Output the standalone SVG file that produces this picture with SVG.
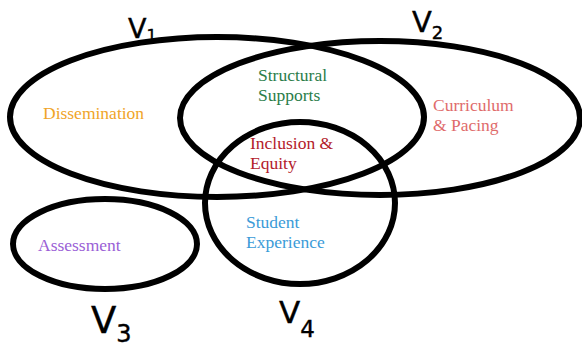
<svg xmlns="http://www.w3.org/2000/svg" width="582" height="347" viewBox="0 0 582 347">
<style>
.set{fill:none;stroke:#000;stroke-width:6}
.lbl{font-family:'Liberation Serif','DejaVu Serif',serif;font-size:17.5px}
.v{font-family:'DejaVu Sans','Noto Sans',sans-serif;fill:#000;stroke:#000;stroke-width:0.4}
</style>
<rect width="582" height="347" fill="#fff"/>
<g id="v1">
<ellipse class="set" cx="217" cy="117" rx="207" ry="80"/>
<text class="v" x="128" y="38" font-size="27">V<tspan font-size="16" dy="3">1</tspan></text>
</g>
<g id="v2">
<ellipse class="set" cx="380" cy="118" rx="200" ry="77"/>
<text class="v" x="412" y="32" font-size="29">V<tspan font-size="18" dy="7">2</tspan></text>
</g>
<g id="v3">
<ellipse class="set" cx="105" cy="244" rx="92" ry="45"/>
<text class="v" x="91" y="333" font-size="37">V<tspan font-size="24" dy="9">3</tspan></text>
</g>
<g id="v4">
<ellipse class="set" cx="300" cy="203" rx="95" ry="81"/>
<text class="v" x="279" y="323" font-size="31">V<tspan font-size="23" dy="14">4</tspan></text>
</g>
<g id="regions">
<text class="lbl" font-family="'Liberation Serif', serif" x="43" y="119" fill="#f0a428">Dissemination</text>
<text class="lbl" font-family="'Liberation Serif', serif" x="258" y="81" fill="#2b7d4a">Structural<tspan x="258" y="101">Supports</tspan></text>
<text class="lbl" font-family="'Liberation Serif', serif" x="433" y="111" fill="#e06b6b">Curriculum<tspan x="433" y="131">&amp; Pacing</tspan></text>
<text class="lbl" font-family="'Liberation Serif', serif" x="250" y="149" fill="#b3202a">Inclusion &amp;<tspan x="250" y="169">Equity</tspan></text>
<text class="lbl" font-family="'Liberation Serif', serif" x="38" y="251" fill="#9a5fd6">Assessment</text>
<text class="lbl" font-family="'Liberation Serif', serif" x="246" y="228" fill="#3b9bd8">Student<tspan x="246" y="248">Experience</tspan></text>
</g>
<g id="connectors"/>
</svg>
